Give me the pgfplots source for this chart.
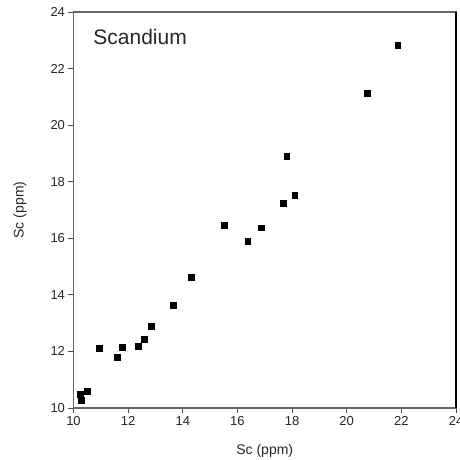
\documentclass[border=0pt]{standalone}
\usepackage{pgfplots}
\pgfplotsset{compat=1.18}
\usepackage{fontspec}
\setmainfont{Liberation Sans}
\begin{document}
\begin{tikzpicture}
\path[use as bounding box] (-73.5pt,-52pt) rectangle (385.5pt,408pt);
\begin{axis}[
  scale only axis,
  width=382.5pt, height=396pt,
  xmin=10, xmax=24, ymin=10, ymax=24,
  xtick={10,12,...,24}, ytick={10,12,...,24},
  tick align=outside,
  major tick length=5pt,
  xtick pos=bottom, ytick pos=left,
  axis line style={black!60, line width=1.2pt},
  every tick/.style={black!70, line width=0.8pt},
  tick label style={font=\fontsize{13}{15}\selectfont, text=black!85},
  /pgf/number format/assume math mode=true,
  xlabel={Sc (ppm)}, ylabel={Sc (ppm)},
  label style={font=\fontsize{14}{16}\selectfont, text=black!85},
  xlabel style={at={(axis description cs:0.5,0)}, anchor=center, yshift=-43pt},
  ylabel style={at={(axis description cs:-0.14,0.5)}, anchor=center},
  clip=false,
]
\addplot[only marks, mark=square*, mark size=2.8pt, black] coordinates {
(10.25,10.48) (10.29,10.27) (10.51,10.59) (10.95,12.11) (11.60,11.79)
(11.79,12.14) (12.37,12.18) (12.59,12.43) (12.85,12.89) (13.66,13.63)
(14.31,14.63) (15.52,16.47) (16.37,15.89) (16.88,16.38) (17.68,17.23)
(18.10,17.52) (17.80,18.90) (20.76,21.12) (21.86,22.82)
};
\node[anchor=west, font=\fontsize{21}{24}\selectfont, text=black!85] at (axis cs:10.6,23.1) {Scandium};
\draw[black, line width=1.2pt] (axis cs:24,10) -- (axis cs:24,24);
\end{axis}
\end{tikzpicture}
\end{document}
